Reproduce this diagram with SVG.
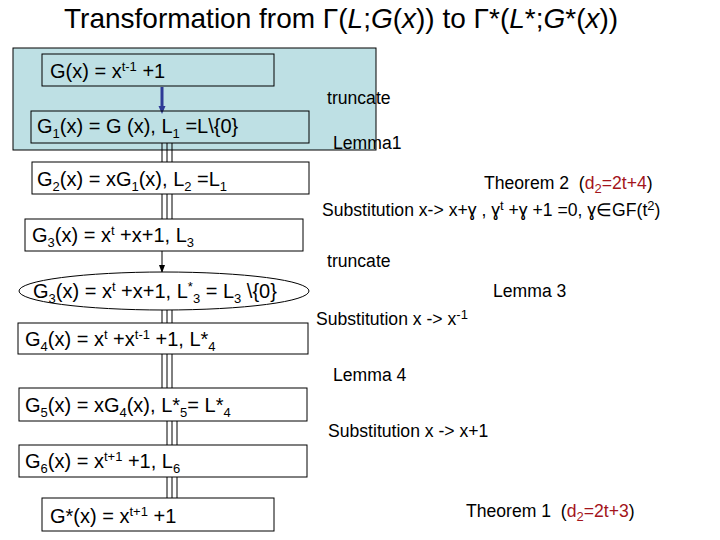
<svg xmlns="http://www.w3.org/2000/svg" width="720" height="540" viewBox="0 0 720 540">
<style>
text{font-family:"Liberation Sans",Arial,sans-serif;fill:#000}
.t{font-size:28px}
.n{font-size:20px}
.l{font-size:17.6px}
.s{font-size:13px}
.box{fill:#fff;stroke:#000;stroke-width:1}
.boxb{fill:none;stroke:#000;stroke-width:1}
.tri{stroke:#000;stroke-width:1;fill:none}
.red{fill:#A3141B}
</style>
<defs>
<marker id="ab" markerWidth="8" markerHeight="8" refX="4" refY="4" orient="auto" markerUnits="userSpaceOnUse"><path d="M0,0.5 L8,4 L0,7.5 Z" fill="#2E3A96"/></marker>
<marker id="ak" markerWidth="8" markerHeight="8" refX="7" refY="4" orient="auto" markerUnits="userSpaceOnUse"><path d="M0,1 L8,4 L0,7 Z" fill="#000"/></marker>
</defs>
<rect width="720" height="540" fill="#fff"/>
<text class="t" x="64" y="28">Transformation from Γ(<tspan font-style="italic">L</tspan>;<tspan font-style="italic">G</tspan>(<tspan font-style="italic">x</tspan>)) to Γ*(<tspan font-style="italic">L</tspan>*;<tspan font-style="italic">G</tspan>*(<tspan font-style="italic">x</tspan>))</text>
<rect id="bg" x="13" y="48" width="363" height="102" fill="#BEE0E4" stroke="#000" stroke-width="1"/>
<g id="connectors">
<line x1="162" y1="87" x2="162" y2="110" stroke="#2E3A96" stroke-width="3" marker-end="url(#ab)"/>
<line x1="162" y1="251" x2="162" y2="272" stroke="#000" stroke-width="1" marker-end="url(#ak)"/>
<path class="tri" d="M162,143V162M167,143V162M172,143V162"/>
<path class="tri" d="M162,194V219M167,194V219M172,194V219"/>
<path class="tri" d="M162,310V323M167,310V323M172,310V323"/>
<path class="tri" d="M162,354V388M167,354V388M172,354V388"/>
<path class="tri" d="M167,421V445M172,421V445M177,421V445"/>
<path class="tri" d="M167,477V498M172,477V498M177,477V498"/>
</g>
<g id="n0"><rect class="boxb" x="42" y="54" width="232" height="32"/>
<text class="n" x="50" y="78">G(x) = x<tspan class="s" dy="-7">t-1</tspan><tspan dy="7"> +1</tspan></text></g>
<g id="n1"><rect class="boxb" x="31" y="111" width="278" height="32"/>
<text class="n" x="37" y="133">G<tspan class="s" dy="5">1</tspan><tspan dy="-5">(x) = G (x), L</tspan><tspan class="s" dy="5">1</tspan><tspan dy="-5"> =L\{0}</tspan></text></g>
<g id="n2"><rect class="box" x="32" y="162" width="277" height="32"/>
<text class="n" x="37" y="186">G<tspan class="s" dy="5">2</tspan><tspan dy="-5">(x) = xG</tspan><tspan class="s" dy="5">1</tspan><tspan dy="-5">(x), L</tspan><tspan class="s" dy="5">2</tspan><tspan dy="-5"> =L</tspan><tspan class="s" dy="5">1</tspan></text></g>
<g id="n3"><rect class="box" x="25" y="219" width="278" height="32"/>
<text class="n" x="32" y="242">G<tspan class="s" dy="5">3</tspan><tspan dy="-5">(x) = x</tspan><tspan class="s" dy="-7">t</tspan><tspan dy="7"> +x+1, L</tspan><tspan class="s" dy="5">3</tspan></text></g>
<g id="n3s"><ellipse cx="164" cy="291" rx="145" ry="19" fill="#fff" stroke="#000" stroke-width="1"/>
<text class="n" x="33" y="298">G<tspan class="s" dy="5">3</tspan><tspan dy="-5">(x) = x</tspan><tspan class="s" dy="-7">t</tspan><tspan dy="7"> +x+1, L</tspan><tspan class="s" dy="-7">*</tspan><tspan class="s" dy="12">3</tspan><tspan dy="-5"> = L</tspan><tspan class="s" dy="5">3</tspan><tspan dy="-5"> \{0}</tspan></text></g>
<g id="n4"><rect class="box" x="18" y="323" width="290" height="31"/>
<text class="n" x="25" y="346">G<tspan class="s" dy="5">4</tspan><tspan dy="-5">(x) = x</tspan><tspan class="s" dy="-7">t</tspan><tspan dy="7"> +x</tspan><tspan class="s" dy="-7">t-1</tspan><tspan dy="7"> +1, L*</tspan><tspan class="s" dy="5">4</tspan></text></g>
<g id="n5"><rect class="box" x="19" y="388" width="288" height="33"/>
<text class="n" x="25" y="412">G<tspan class="s" dy="5">5</tspan><tspan dy="-5">(x) = xG</tspan><tspan class="s" dy="5">4</tspan><tspan dy="-5">(x), L*</tspan><tspan class="s" dy="5">5</tspan><tspan dy="-5">= L*</tspan><tspan class="s" dy="5">4</tspan></text></g>
<g id="n6"><rect class="box" x="19" y="445" width="288" height="32"/>
<text class="n" x="25" y="468">G<tspan class="s" dy="5">6</tspan><tspan dy="-5">(x) = x</tspan><tspan class="s" dy="-7">t+1</tspan><tspan dy="7"> +1, L</tspan><tspan class="s" dy="5">6</tspan></text></g>
<g id="n7"><rect class="box" x="42" y="498" width="232" height="33"/>
<text class="n" x="50" y="523">G*(x) = x<tspan class="s" dy="-7">t+1</tspan><tspan dy="7"> +1</tspan></text></g>
<g id="labels">
<text class="l" x="327" y="104">truncate</text>
<text class="l" x="333" y="149">Lemma1</text>
<text class="l" x="484" y="189">Theorem 2&#160; (<tspan class="red">d</tspan><tspan class="red s" dy="4">2</tspan><tspan class="red" dy="-4">=2t+4</tspan>)</text>
<text class="l" x="322" y="216">Substitution x-&gt; x+ɣ , ɣ<tspan class="s" dy="-6">t</tspan><tspan dy="6"> +ɣ +1 =0, ɣ∈GF(t</tspan><tspan class="s" dy="-6">2</tspan><tspan dy="6">)</tspan></text>
<text class="l" x="327" y="267">truncate</text>
<text class="l" x="493" y="297">Lemma 3</text>
<text class="l" x="316" y="325">Substitution x -&gt; x<tspan class="s" dy="-6">-1</tspan></text>
<text class="l" x="333" y="381">Lemma 4</text>
<text class="l" x="328" y="437">Substitution x -&gt; x+1</text>
<text class="l" x="466" y="517">Theorem 1&#160; (<tspan class="red">d</tspan><tspan class="red s" dy="4">2</tspan><tspan class="red" dy="-4">=2t+3</tspan>)</text>
</g>
</svg>
